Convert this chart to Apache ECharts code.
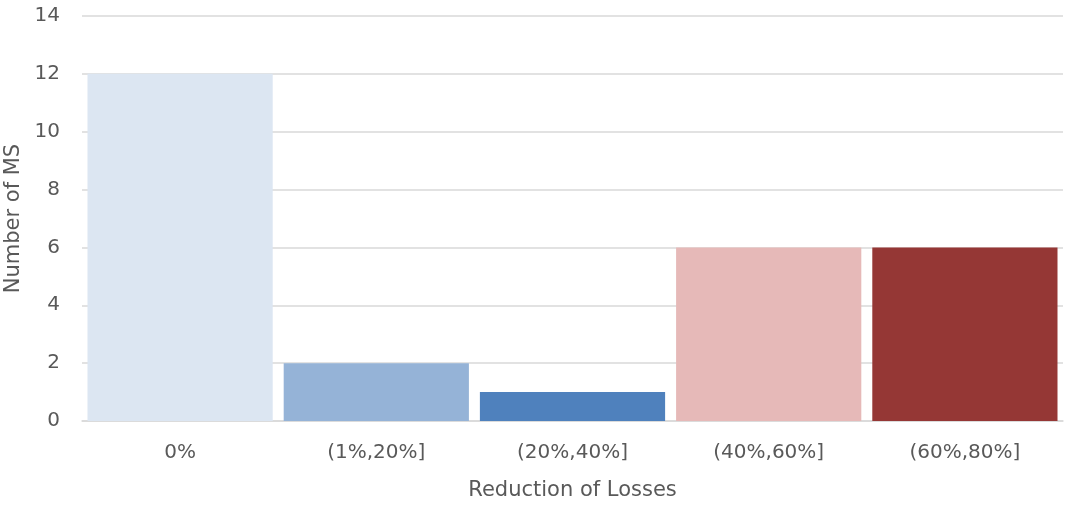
<!DOCTYPE html>
<html>
<head>
<meta charset="utf-8">
<script src="https://cdn.jsdelivr.net/npm/echarts@6/dist/echarts.min.js"></script>
<style>
  html, body { margin: 0; padding: 0; background: #fff; }
  #main { width: 1065px; height: 505px; }
</style>
</head>
<body>
<div id="main"></div>
<script>
const categories = ['0%', '(1%,20%]', '(20%,40%]', '(40%,60%]', '(60%,80%]']
const counts = [12, 2, 1, 6, 6]
const barColors = ['#dce6f2', '#95b3d7', '#4f81bd', '#e6b9b8', '#953735']

const myChart = echarts.init(document.getElementById('main'))
const font = 'DejaVu Sans, Arial, sans-serif'

const option = {
  animation: false,
  grid: { left: 82, right: 2, top: 16, bottom: 84, containLabel: false, outerBoundsMode: 'none' },
  xAxis: {
    type: 'category',
    data: categories,
    name: 'Reduction of Losses',
    nameLocation: 'middle',
    nameGap: 59,
    nameTextStyle: { color: '#595959', fontSize: 21, fontFamily: font },
    axisLine: { show: true, lineStyle: { color: '#d9d9d9', width: 1.5 } },
    axisTick: { show: false },
    axisLabel: { color: '#595959', fontSize: 20, fontFamily: font, margin: 22 }
  },
  yAxis: {
    type: 'value',
    min: 0,
    max: 14,
    interval: 2,
    name: 'Number of MS',
    nameLocation: 'middle',
    nameGap: 58,
    nameTextStyle: { color: '#595959', fontSize: 21, fontFamily: font },
    axisLine: { show: false },
    axisTick: { show: false },
    axisLabel: { color: '#595959', fontSize: 20, fontFamily: font, margin: 22 },
    splitLine: { lineStyle: { color: '#d9d9d9', width: 1.5 } }
  },
  series: [
    {
      type: 'bar',
      data: counts.map((v, i) => ({ value: v, itemStyle: { color: barColors[i] } })),
      barCategoryGap: '5.6%'
    }
  ]
}

option && myChart.setOption(option)
</script>
</body>
</html>
